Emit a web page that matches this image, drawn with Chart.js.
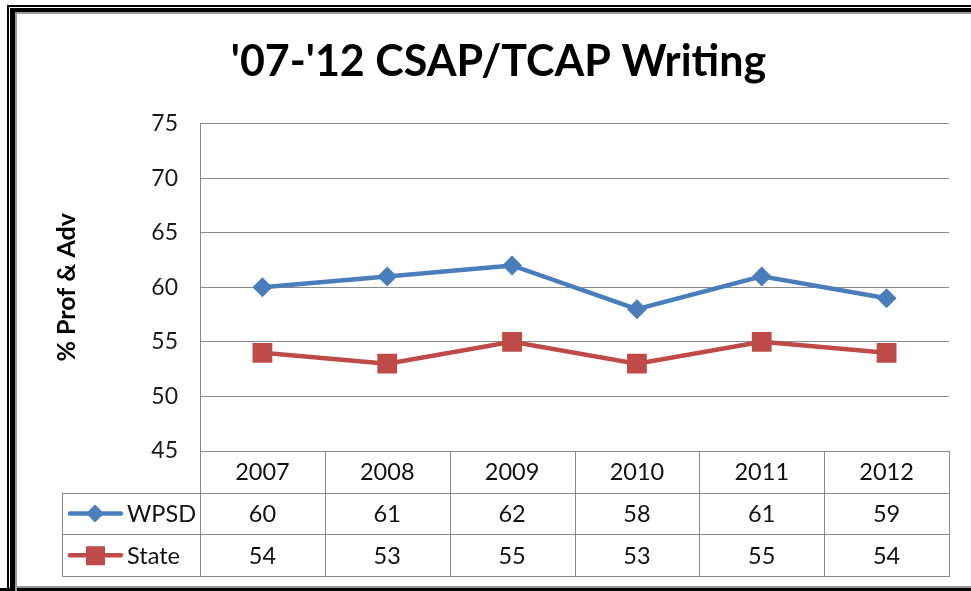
<!DOCTYPE html>
<html>
<head>
<meta charset="utf-8">
<script src="https://cdn.jsdelivr.net/npm/chart.js@4"></script>
<style>
  body { margin: 0; background: #fff; }
  canvas { display: block; }
</style>
</head>
<body>
<canvas id="writingChart" width="971" height="591"></canvas>
<script>
// chart data
const years = ['2007', '2008', '2009', '2010', '2011', '2012'];
const wpsdScores = [60, 61, 62, 58, 61, 59];
const stateScores = [54, 53, 55, 53, 55, 54];
const yMin = 45;
const yMax = 75;
const yStep = 5;

const FONT = 'Lato, "Open Sans", sans-serif';
const GRID = '#8a8a8a';
const BLUE = '#4a7ebb';
const RED = '#be4b48';

// draws the frame and the data table under the plot (Excel style)
const dataTable = {
    id: 'dataTable',
    beforeDraw(chart) {
        const ctx = chart.ctx;
        ctx.save();
        ctx.fillStyle = '#fff';
        ctx.fillRect(0, 0, chart.width, chart.height);
        ctx.restore();
    },
    afterDraw(chart) {
        const { ctx, chartArea: area } = chart;
        const x = chart.scales.x;
        const rowH = 41.7;
        const top = area.bottom;
        const bottom = top + rowH * 3;
        const legendLeft = 62;
        const colW = (area.right - area.left) / years.length;

        ctx.save();
        ctx.strokeStyle = GRID;
        ctx.lineWidth = 1;
        ctx.beginPath();
        // column lines
        for (let i = 0; i <= years.length; i++) {
            const cx = Math.round(area.left + i * colW) + 0.5;
            ctx.moveTo(cx, top);
            ctx.lineTo(cx, bottom);
        }
        // legend column left edge
        ctx.moveTo(legendLeft + 0.5, top + rowH);
        ctx.lineTo(legendLeft + 0.5, bottom);
        // row lines
        for (let r = 1; r <= 3; r++) {
            const ry = Math.round(top + r * rowH) + 0.5;
            ctx.moveTo(legendLeft, ry);
            ctx.lineTo(area.right + 1, ry);
        }
        ctx.stroke();

        ctx.fillStyle = '#111';
        ctx.font = '23.5px ' + FONT;
        ctx.textAlign = 'center';
        ctx.textBaseline = 'middle';
        years.forEach((yr, i) => {
            const cx = x.getPixelForValue(i);
            ctx.fillText(yr, cx, top + rowH * 0.5 + 1);
        });

        chart.data.datasets.forEach((ds, r) => {
            const cy = top + rowH * (r + 1.5) + 1;
            ds.data.forEach((v, i) => {
                ctx.fillText(String(v), x.getPixelForValue(i), cy);
            });
            // legend key
            ctx.strokeStyle = ds.borderColor;
            ctx.lineWidth = 4.5;
            ctx.lineCap = 'round';
            ctx.beginPath();
            ctx.moveTo(70, cy - 1);
            ctx.lineTo(121, cy - 1);
            ctx.stroke();
            ctx.fillStyle = ds.borderColor;
            if (ds.pointStyle === 'rectRot') {
                ctx.beginPath();
                ctx.moveTo(95, cy - 10);
                ctx.lineTo(104, cy - 1);
                ctx.lineTo(95, cy + 8);
                ctx.lineTo(86, cy - 1);
                ctx.closePath();
                ctx.fill();
            } else {
                ctx.fillRect(86, cy - 10, 19, 19);
            }
            ctx.fillStyle = '#111';
            ctx.textAlign = 'left';
            ctx.fillText(ds.label, 127, cy);
            ctx.textAlign = 'center';
        });

        // outer frame
        ctx.fillStyle = '#000';
        ctx.fillRect(7, 5, 2, chart.height);
        ctx.fillRect(7, 5, chart.width, 2);
        ctx.fillRect(10, 8, 5, chart.height);
        ctx.fillRect(10, 8, chart.width, 4);
        ctx.fillRect(0, 588, chart.width, 3);
        ctx.fillStyle = '#9a9a9a';
        ctx.fillRect(15, 12, 2, chart.height);
        ctx.fillRect(15, 12, chart.width, 2);
        ctx.fillRect(15, 586, chart.width, 2);
        ctx.restore();
    }
};

const ctx = document.getElementById('writingChart').getContext('2d');
new Chart(ctx, {
    type: 'line',
    data: {
        labels: years,
        datasets: [
            {
                label: 'WPSD',
                data: wpsdScores,
                borderColor: BLUE,
                backgroundColor: BLUE,
                borderWidth: 4.5,
                pointStyle: 'rectRot',
                pointRadius: 10,
                pointHoverRadius: 10,
                pointBorderWidth: 0
            },
            {
                label: 'State',
                data: stateScores,
                borderColor: RED,
                backgroundColor: RED,
                borderWidth: 4.5,
                pointStyle: 'rect',
                pointRadius: 14,
                pointHoverRadius: 14,
                pointBorderWidth: 0
            }
        ]
    },
    options: {
        responsive: false,
        animation: false,
        events: [],
        layout: {
            padding: { top: 10, left: 48, right: 22, bottom: 140 }
        },
        plugins: {
            legend: { display: false },
            tooltip: { enabled: false },
            title: {
                display: true,
                text: "'07-'12 CSAP/TCAP Writing",
                color: '#000',
                font: { family: FONT, size: 43, weight: 'bold', lineHeight: 1.2 },
                padding: { top: 26, bottom: 36 }
            }
        },
        scales: {
            x: {
                display: false,
                offset: true
            },
            y: {
                min: yMin,
                max: yMax,
                afterFit(scale) { scale.width = 152; },
                ticks: {
                    stepSize: yStep,
                    padding: 22,
                    color: '#1a1a1a',
                    font: { family: FONT, size: 23 }
                },
                grid: { color: GRID, tickLength: 0 },
                border: { display: true, color: GRID },
                title: {
                    display: true,
                    text: '% Prof & Adv',
                    color: '#000',
                    font: { family: FONT, size: 25, weight: 'bold' }
                }
            }
        }
    },
    plugins: [dataTable]
});
</script>
</body>
</html>
